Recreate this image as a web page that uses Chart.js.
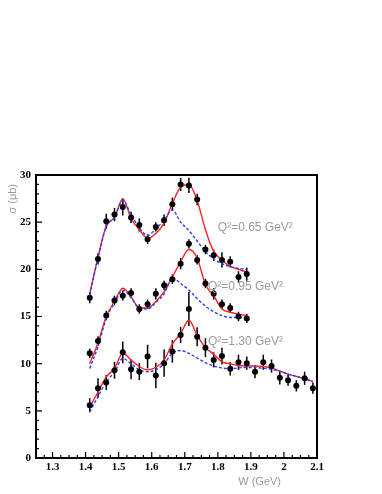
<!DOCTYPE html>
<html>
<head>
<meta charset="utf-8">
<script src="https://cdn.jsdelivr.net/npm/chart.js@4"></script>
<style>
  body { margin: 0; background: #fff; }
</style>
</head>
<body>
<canvas id="chart" width="382" height="494"></canvas>
<script>
// W values of the measured bins (GeV)
const wBins = [1.4125, 1.4375, 1.4625, 1.4875, 1.5125, 1.5375, 1.5625, 1.5875, 1.6125, 1.6375,
  1.6625, 1.6875, 1.7125, 1.7375, 1.7625, 1.7875, 1.8125, 1.8375, 1.8625, 1.8875,
  1.9125, 1.9375, 1.9625, 1.9875, 2.0125, 2.0375, 2.0625, 2.0875];

// Q2 = 0.65
const q065Data = [17.0, 21.1, 25.1, 25.8, 26.6, 25.5, 24.7, 23.2, 24.5, 25.2, 26.9, 29.0, 28.9, 27.4, 22.1, 21.5, 21.0, 20.8, 19.2, 19.5];
const q065Err = [0.6, 0.6, 0.8, 0.7, 0.9, 0.6, 0.7, 0.5, 0.5, 0.6, 0.7, 0.7, 0.8, 0.6, 0.5, 0.6, 0.8, 0.6, 0.6, 0.7];
const q065Full = [17.4, 21.3, 24.6, 25.5, 27.5, 25.4, 24.2, 23.3, 23.8, 24.9, 27.0, 28.7, 29.0, 27.3, 24.2, 21.9, 21.0, 20.3, 20.0, 19.7];
const q065Bg = [17.3, 21.2, 24.5, 25.5, 27.3, 25.8, 24.4, 23.6, 24.3, 25.2, 26.3, 25.0, 24.1, 23.0, 21.9, 21.1, 20.6, 20.3, 20.1, 20.0];

// Q2 = 0.95
const q095Data = [11.1, 12.4, 15.1, 16.7, 17.2, 17.5, 15.8, 16.3, 17.4, 18.3, 18.95, 20.6, 22.7, 21.0, 18.5, 17.4, 16.3, 15.9, 15.0, 14.8];
const q095Err = [0.5, 0.5, 0.5, 0.5, 0.5, 0.5, 0.5, 0.5, 0.6, 0.5, 0.5, 0.6, 0.5, 0.5, 0.5, 0.6, 0.5, 0.5, 0.5, 0.5];
const q095Full = [10.0, 12.2, 15.0, 16.6, 18.0, 17.1, 15.9, 15.9, 16.6, 17.6, 19.2, 20.8, 22.1, 21.2, 18.4, 17.2, 15.8, 15.45, 15.25, 15.1];
const q095Bg = [9.5, 11.8, 14.8, 16.4, 17.8, 17.0, 15.9, 15.8, 16.5, 17.4, 19.1, 18.5, 17.8, 16.9, 16.1, 15.5, 15.1, 14.9, 14.9, 14.9];

// Q2 = 1.30
const q130Data = [5.6, 7.4, 8.0, 9.3, 11.2, 9.4, 9.15, 10.75, 8.75, 10.05, 11.3, 13.05, 15.8, 12.85,
  11.7, 10.4, 10.8, 9.45, 10.15, 10.05, 9.15, 10.15, 9.75, 8.5, 8.25, 7.65, 8.45, 7.4];
const q130Err = [0.75, 1.05, 0.8, 0.9, 1.15, 1.05, 0.9, 1.25, 1.35, 1.45, 1.2, 0.85, 1.8, 1.0,
  1.0, 0.8, 0.9, 0.7, 0.8, 0.7, 0.7, 0.8, 0.7, 0.7, 0.6, 0.6, 0.7, 0.6];
const q130Full = [5.4, 7.0, 8.6, 9.5, 11.1, 10.4, 9.7, 9.35, 9.6, 10.4, 12.1, 13.2, 14.6, 13.0,
  11.7, 11.0, 10.2, 10.0, 9.8, 9.75, 9.75, 9.7, 9.55, 9.2, 8.9, 8.65, 8.4, 8.1];
const q130Bg = [4.9, 6.5, 8.1, 9.1, 10.55, 10.0, 9.35, 9.15, 9.35, 10.0, 11.1, 11.4, 11.1, 10.6,
  10.1, 9.75, 9.55, 9.45, 9.55, 9.6, 9.6, 9.5, 9.4, 9.2, 8.9, 8.65, 8.4, 8.1];

const xTicks = [1.3, 1.4, 1.5, 1.6, 1.7, 1.8, 1.9, 2.0, 2.1];
const yTicks = [0, 5, 10, 15, 20, 25, 30];

// curve labels: text, W, sigma
const curveLabels = [
  ["Q\u00b2=0.65 GeV\u00b2", 1.800, 24.4],
  ["Q\u00b2=0.95 GeV\u00b2", 1.770, 18.2],
  ["Q\u00b2=1.30 GeV\u00b2", 1.770, 12.3],
];

const toPoints = (vals) => vals.map((v, i) => ({ x: wBins[i], y: v }));

function pointSet(vals, errs) {
  return {
    data: toPoints(vals),
    errors: errs,
    showLine: false,
    pointRadius: 3,
    pointBackgroundColor: "#000",
    pointBorderWidth: 0,
    order: 0,
  };
}

function curveSet(vals, color, dash) {
  return {
    data: toPoints(vals),
    showLine: true,
    borderColor: color,
    borderWidth: 1.4,
    borderDash: dash,
    pointRadius: 0,
    cubicInterpolationMode: "monotone",
    order: 1,
  };
}

const red = "#ff2020";
const blue = "#2a3cff";

const datasets = [
  curveSet(q065Bg, blue, [3, 2]),
  curveSet(q065Full, red, []),
  curveSet(q095Bg, blue, [3, 2]),
  curveSet(q095Full, red, []),
  curveSet(q130Bg, blue, [3, 2]),
  curveSet(q130Full, red, []),
  pointSet(q065Data, q065Err),
  pointSet(q095Data, q095Err),
  pointSet(q130Data, q130Err),
];

const textGray = "#9a9a9a";

const decorations = {
  id: "decorations",
  beforeDatasetsDraw(chart) {
    const { ctx, scales: { x, y } } = chart;
    ctx.save();
    ctx.strokeStyle = "#000";
    ctx.lineWidth = 1.5;
    chart.data.datasets.forEach((ds) => {
      if (!ds.errors) return;
      ds.data.forEach((p, i) => {
        const px = x.getPixelForValue(p.x);
        ctx.beginPath();
        ctx.moveTo(px, y.getPixelForValue(p.y - ds.errors[i]));
        ctx.lineTo(px, y.getPixelForValue(p.y + ds.errors[i]));
        ctx.stroke();
      });
    });
    ctx.restore();
  },
  afterDraw(chart) {
    const { ctx, chartArea: a, scales: { x, y } } = chart;
    ctx.save();
    // frame
    ctx.strokeStyle = "#000";
    ctx.lineWidth = 2;
    ctx.strokeRect(a.left, a.top, a.right - a.left, a.bottom - a.top);

    // ticks, pointing inward
    ctx.lineWidth = 1.2;
    ctx.beginPath();
    for (let k = 0; k <= 34; k++) {
      const v = 1.25 + k * 0.025;
      const px = x.getPixelForValue(v);
      const len = k % 4 === 2 ? 6 : 3;
      ctx.moveTo(px, a.bottom);
      ctx.lineTo(px, a.bottom - len);
    }
    for (let v = 0; v <= 30; v++) {
      const py = y.getPixelForValue(v);
      const len = v % 5 === 0 ? 6 : 3;
      ctx.moveTo(a.left, py);
      ctx.lineTo(a.left + len, py);
    }
    ctx.stroke();

    // curve labels
    ctx.fillStyle = textGray;
    ctx.font = '12px "Liberation Sans", Arial, sans-serif';
    ctx.textBaseline = "middle";
    ctx.textAlign = "left";
    curveLabels.forEach(([t, w, s]) => {
      ctx.fillText(t, x.getPixelForValue(w), y.getPixelForValue(s));
    });

    // axis titles
    ctx.font = '11px "Liberation Sans", Arial, sans-serif';
    ctx.textAlign = "right";
    ctx.fillText("W (GeV)", a.right - 36, 482);
    ctx.translate(13, a.top);
    ctx.rotate(-Math.PI / 2);
    ctx.textAlign = "right";
    ctx.fillText("\u03c3 (\u03bcb)", -9, 0);
    ctx.restore();
  },
};

const tickFont = { family: '"Liberation Serif", "DejaVu Serif", serif', size: 11, weight: "bold" };

new Chart(document.getElementById("chart"), {
  type: "scatter",
  data: { datasets },
  options: {
    responsive: false,
    animation: false,
    layout: { padding: { top: 175, right: 65, bottom: 0, left: 0 } },
    plugins: { legend: { display: false }, tooltip: { enabled: false } },
    scales: {
      x: {
        type: "linear",
        min: 1.25,
        max: 2.1,
        grid: { display: false, drawTicks: false },
        border: { display: false },
        afterBuildTicks: (s) => { s.ticks = xTicks.map((v) => ({ value: v })); },
        afterFit: (s) => { s.height = 36; },
        ticks: {
          color: "#000",
          font: tickFont,
          padding: 3,
          maxRotation: 0,
          autoSkip: false,
          callback: (v) => String(Math.round(v * 10) / 10),
        },
      },
      y: {
        type: "linear",
        min: 0,
        max: 30,
        grid: { display: false, drawTicks: false },
        border: { display: false },
        afterBuildTicks: (s) => { s.ticks = yTicks.map((v) => ({ value: v })); },
        afterFit: (s) => { s.width = 36; },
        ticks: { color: "#000", font: tickFont, padding: 5 },
      },
    },
  },
  plugins: [decorations],
});
</script>
</body>
</html>
